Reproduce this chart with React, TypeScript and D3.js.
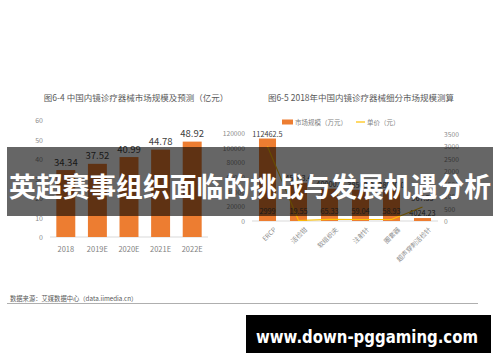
import { useEffect } from 'react';
import * as d3 from 'd3';

const years = ['2018', '2019E', '2020E', '2021E', '2022E'];
const marketSize = [34.34, 37.52, 40.99, 44.78, 48.92];
const leftTicks = [0, 10, 20, 30, 40, 50, 60];

const segments = ['ERCP', '活检钳', '软组织夹', '注射针', '圈套器', '超声穿刺活检针'];
const segmentSize = [112462.5, 52000, 44000, 42500, 42000, 4024.23];
const segmentSizeLabels = ['112462.5', '45043.4', '40000.0', '38500.0', '38000.0', '4024.23'];
const unitPrice = [2999, 19.55, 65.33, 59.04, 58.93, 567.33];
const sizeTicks = [0, 20000, 40000, 60000, 80000, 100000, 120000];
const priceTicks = [0, 500, 1000, 1500, 2000, 2500, 3000, 3500];

const ORANGE = '#ED7D31';
const YELLOW = '#FFC000';
const FONT = '"Noto Sans CJK SC", "Noto Sans", sans-serif';

export default function App() {
  useEffect(() => {
    document.body.style.margin = '0';
  }, []);

  // left chart scales
  const xL = d3.scaleBand<string>().domain(years).range([50, 208]).paddingInner(0.4).paddingOuter(0.2);
  const yL = d3.scaleLinear().domain([0, 60]).range([237, 120]);

  // right chart scales
  const xR = d3.scaleBand<string>().domain(segments).range([252, 438]).paddingInner(0.45).paddingOuter(0.225);
  const yR = d3.scaleLinear().domain([0, 120000]).range([221, 133]);
  const yP = d3.scaleLinear().domain([0, 3500]).range([221, 134]);

  const priceLine = d3
    .line<number>()
    .x((_d, i) => (xR(segments[i]) ?? 0) + xR.bandwidth() / 2)
    .y((d) => yP(d));

  return (
    <svg width={500} height={362} style={{ display: 'block', background: '#fff' }} fontFamily={FONT}>
      <rect x={0} y={0} width={500} height={362} fill="#fff" />

      {/* left chart */}
      <text x={136} y={97} textAnchor="middle" dominantBaseline="central" fontSize={8.5} fill="#595959">
        图6-4 中国内镜诊疗器械市场规模及预测（亿元）
      </text>
      {leftTicks.map((t) => (
        <text key={t} x={43} y={yL(t)} textAnchor="end" dominantBaseline="central" fontSize={7} fill="#8c8c8c">
          {t}
        </text>
      ))}
      <line x1={50} x2={208} y1={yL(0)} y2={yL(0)} stroke="#d9d9d9" strokeWidth={1} />
      {years.map((y, i) => {
        const x = xL(y) ?? 0;
        const top = yL(marketSize[i]);
        return (
          <g key={y}>
            <rect x={x} y={top} width={xL.bandwidth()} height={yL(0) - top} fill={ORANGE} />
            <text x={x + xL.bandwidth() / 2} y={top - 8.5} textAnchor="middle" dominantBaseline="central" fontSize={9.5} fill="#404040">
              {marketSize[i].toFixed(2)}
            </text>
            <text x={x + xL.bandwidth() / 2} y={248} textAnchor="middle" dominantBaseline="central" fontSize={7.5} fill="#7f7f7f">
              {y}
            </text>
          </g>
        );
      })}

      {/* right chart */}
      <text x={361} y={97} textAnchor="middle" dominantBaseline="central" fontSize={8.5} fill="#595959">
        图6-5 2018年中国内镜诊疗器械细分市场规模测算
      </text>
      <rect x={282} y={119.5} width={11} height={5} fill={ORANGE} />
      <text x={295} y={122} dominantBaseline="central" fontSize={6.5} fill="#7f7f7f">市场规模（万元）</text>
      <line x1={356} x2={365} y1={122} y2={122} stroke={YELLOW} strokeWidth={1.2} />
      <text x={367} y={122} dominantBaseline="central" fontSize={6.5} fill="#7f7f7f">单价（元）</text>

      {sizeTicks.map((t) => (
        <text key={t} x={245} y={yR(t)} textAnchor="end" dominantBaseline="central" fontSize={6.7} fill="#8c8c8c">
          {t}
        </text>
      ))}
      {priceTicks.map((t) => (
        <text key={t} x={444} y={yP(t)} dominantBaseline="central" fontSize={6.7} fill="#8c8c8c">
          {t}
        </text>
      ))}
      <line x1={252} x2={438} y1={yR(0)} y2={yR(0)} stroke="#d9d9d9" strokeWidth={1} />
      {segments.map((s, i) => {
        const x = xR(s) ?? 0;
        const cx = x + xR.bandwidth() / 2;
        const top = yR(segmentSize[i]);
        return (
          <g key={s}>
            <rect x={x} y={top} width={xR.bandwidth()} height={yR(0) - top} fill={ORANGE} />
            <text x={cx} y={top - 5} textAnchor="middle" dominantBaseline="central" fontSize={7.3} fill="#404040">
              {segmentSizeLabels[i]}
            </text>
            <text
              transform={`translate(${cx + 7},${228}) rotate(-45)`}
              textAnchor="end"
              dominantBaseline="central"
              fontSize={6.5}
              fill="#8c8c8c"
            >
              {s}
            </text>
          </g>
        );
      })}
      <path d={priceLine(unitPrice) ?? ''} fill="none" stroke={YELLOW} strokeWidth={1.1} />
      {segments.map((s, i) => {
        const cx = (xR(s) ?? 0) + xR.bandwidth() / 2;
        const last = i === segments.length - 1;
        return (
          <text
            key={s}
            x={cx}
            y={last ? yP(unitPrice[i]) - 9 : yR(0) - 10}
            textAnchor="middle"
            dominantBaseline="central"
            fontSize={7.3}
            fill="#404040"
          >
            {unitPrice[i]}
          </text>
        );
      })}

      {/* footer */}
      <text x={10} y={298} dominantBaseline="central" fontSize={6.3} fill="#595959">
        数据来源：艾媒数据中心（data.iimedia.cn）
      </text>
      <line x1={7} x2={478} y1={303.5} y2={303.5} stroke="#9a9a9a" strokeWidth={0.8} />

      {/* overlay banner */}
      <rect x={7} y={147} width={486} height={69} fill="#000" fillOpacity={0.6} />
      <text
        x={250}
        y={185}
        textAnchor="middle"
        dominantBaseline="central"
        fontSize={27}
        fontWeight="bold"
        fill="#fff"
        textLength={482}
        lengthAdjust="spacingAndGlyphs"
      >
        英超赛事组织面临的挑战与发展机遇分析
      </text>

      {/* watermark */}
      <rect x={246} y={315} width={245} height={38} fill="#000" />
      <text
        x={367}
        y={336}
        textAnchor="middle"
        dominantBaseline="central"
        fontSize={18}
        fontWeight="bold"
        fill="#fff"
        fontFamily='"DejaVu Sans", sans-serif'
        textLength={222}
        lengthAdjust="spacingAndGlyphs"
      >
        www.down-pggaming.com
      </text>
    </svg>
  );
}
